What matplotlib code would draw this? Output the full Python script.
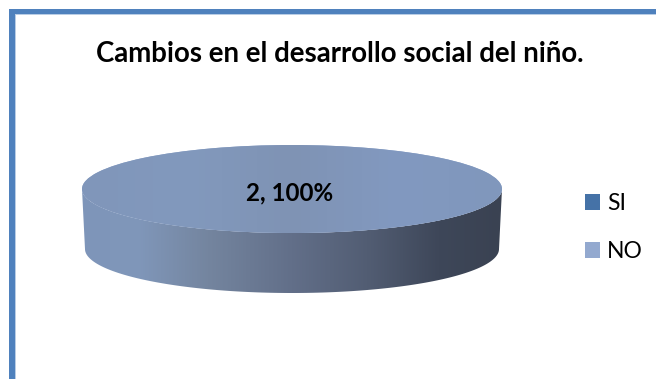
import numpy as np
import matplotlib
matplotlib.use("Agg")
import matplotlib.pyplot as plt
from matplotlib.colors import LinearSegmentedColormap
from matplotlib.patches import Polygon, Rectangle

labels = ["SI", "NO"]
values = [0, 2]
colors = ["#4572A7", "#93A9CF"]
title = "Cambios en el desarrollo social del niño."

W, H = 656, 379
fig = plt.figure(figsize=(W / 100, H / 100), dpi=100, facecolor="white")

# full size axes in pixel coords, for the frame and the pie side
bg = fig.add_axes([0, 0, 1, 1])
bg.set_xlim(0, W)
bg.set_ylim(H, 0)
bg.axis("off")

# frame only on top and left
bg.add_patch(Rectangle((14, 13), W, 2, fc="#B9CDE5", ec="none"))
bg.add_patch(Rectangle((14, 13), 2, H, fc="#B9CDE5", ec="none"))
bg.add_patch(Rectangle((9, 9), W, 4.5, fc="#4F81BD", ec="none"))
bg.add_patch(Rectangle((9, 9), 5.5, H, fc="#4F81BD", ec="none"))

# pie geometry
cx, cy, rx, ry, depth = 292, 189, 210, 44, 60

# side of the disc: lower half of the ellipse pushed down by depth, a bit narrower at the bottom
t = np.linspace(0, np.pi, 200)
xs = cx + rx * np.cos(t)
ys = cy + ry * np.sin(t)
xs_low = cx + (rx - 3) * np.cos(t)
side = np.vstack([np.column_stack([xs_low, ys + depth]), np.column_stack([xs[::-1], ys[::-1]])])
side_patch = Polygon(side, closed=True, fc="none", ec="none")
bg.add_patch(side_patch)

side_cmap = LinearSegmentedColormap.from_list("side", [
    (0.0, "#7E95B9"), (0.13, "#8097BA"), (0.3, "#74859F"), (0.5, "#626F89"),
    (0.68, "#525D73"), (0.85, "#3E4759"), (1.0, "#3A4252"),
])
img = bg.imshow(np.linspace(0, 1, 256).reshape(1, -1), cmap=side_cmap, aspect="auto",
                extent=[cx - rx, cx + rx, cy + ry + depth, cy])
img.set_clip_path(side_patch)
bg.set_xlim(0, W)
bg.set_ylim(H, 0)

# top face, a real pie squashed into its own axes
ax = fig.add_axes([(cx - rx) / W, 1 - (cy + ry) / H, 2 * rx / W, 2 * ry / H])
wedges, _ = ax.pie(values, colors=colors, startangle=90, radius=1, normalize=True)
ax.set_aspect("auto")
ax.set_xlim(-1, 1)
ax.set_ylim(-1, 1)
ax.patch.set_alpha(0)

top_cmap = LinearSegmentedColormap.from_list("top", ["#8096BA", "#8299BD", "#7F93B4", "#8299C0", "#8097BC"])
top = ax.imshow(np.linspace(0, 1, 256).reshape(1, -1), cmap=top_cmap, aspect="auto",
                extent=[-1, 1, -1, 1], zorder=3)
top.set_clip_path(wedges[1])
ax.set_xlim(-1, 1)
ax.set_ylim(-1, 1)

total = sum(values)
ax.text(-0.01, -0.09, f"{values[1]}, {values[1] / total:.0%}", ha="center", va="center", fontsize=17.4,
        fontweight="bold", family="Lato", color="black", zorder=5,
        transform=ax.transData)

fig.text(339.5 / W, 1 - 54 / H, title, ha="center", va="center", fontsize=19.9,
         fontweight="bold", family="Lato", color="black")

fig.legend(wedges, labels, loc="upper left", bbox_to_anchor=(585 / W, 1 - 193 / H),
           frameon=False, prop={"family": "Lato", "size": 16.5},
           handlelength=0.66, handleheight=0.66, handletextpad=0.3,
           labelspacing=1.18, borderpad=0, borderaxespad=0)

fig.savefig("out.png", dpi=100)
